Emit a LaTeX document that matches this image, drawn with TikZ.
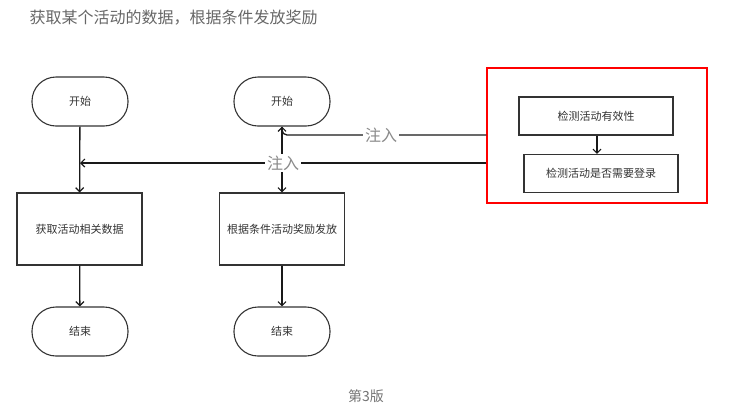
\documentclass[tikz,border=0pt]{standalone}
\usepackage{fontspec}
\newfontfamily\cjk{Noto Sans CJK SC}
\usetikzlibrary{arrows.meta}
\definecolor{txt}{HTML}{333333}
\definecolor{lbl}{HTML}{8A8A8A}
\tikzset{
  base/.style={font=\cjk\fontsize{11}{13}\selectfont, text=txt, draw=black!80, line width=1.1pt, inner sep=0pt},
  term/.style={base, minimum width=96pt, minimum height=49pt, rounded corners=24pt},
  proc/.style={base, minimum width=125pt, minimum height=72pt},
  inner/.style={base, minimum width=154pt, minimum height=38pt},
  arr/.style={line width=1.3pt, draw=black!90, -{Straight Barb[length=4pt,width=8pt,line width=1.2pt]}},
  inj/.style={font=\cjk\fontsize{16}{18}\selectfont, text=lbl, fill=white, inner sep=2pt}
}
\begin{document}
\begin{tikzpicture}[x=1pt,y=-1pt]
\useasboundingbox (0,0) rectangle (736,408);
\node[anchor=west, font=\cjk\fontsize{16}{18}\selectfont, text=black!60] (title) at (26,18) {获取某个活动的数据，根据条件发放奖励};
\node[term] (s1) at (80,101.5) {开始};
\node[term] (s2) at (282,101.5) {开始};
\node[proc] (b1) at (79.5,229) {获取活动相关数据};
\node[proc] (b2) at (282,229) {根据条件活动奖励发放};
\node[term] (e1) at (80,331.5) {结束};
\node[term] (e2) at (282,331.5) {结束};
\node[draw=red, line width=1.4pt, minimum width=220pt, minimum height=135pt, inner sep=0pt] (rb) at (597,135.5) {};
\node[inner] (c1) at (596,116) {检测活动有效性};
\node[inner] (c2) at (601,173.5) {检测活动是否需要登录};
\draw[arr] (s1) -- (b1);
\draw[arr] (b1) -- (e1);
\draw[arr] (s2) -- (b2);
\draw[arr] (b2) -- (e2);
\draw[arr] (c1.south -| 597,0) -- (c2.north -| 597,0);
\draw[arr, rounded corners=5pt] (rb.west |- 0,135) -| (s2.south);
\node[inj] (l1) at (381,135) {注入};
\draw[arr] (rb.west |- 0,163) -- (s1.south |- 0,163);
\node[inj] (l2) at (283,163) {注入};
\node[font=\cjk\fontsize{14}{16}\selectfont, text=black!55] (ver) at (366,396) {第3版};
\end{tikzpicture}
\end{document}
